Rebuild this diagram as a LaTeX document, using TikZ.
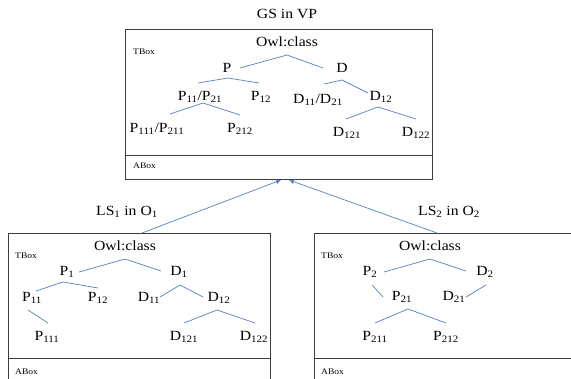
\documentclass[tikz,border=0pt]{standalone}
\usepackage{fontspec}
\setmainfont{Liberation Serif}[FakeStretch=1.12]
\usetikzlibrary{arrows.meta}
\definecolor{linkblue}{RGB}{84,130,190}
\definecolor{boxgray}{RGB}{60,60,60}
\tikzset{
  lbl/.style={inner sep=0pt, font=\fontsize{14}{16}\selectfont},
  ttl/.style={inner sep=0pt, font=\fontsize{14}{16}\selectfont},
  small/.style={inner sep=0pt, anchor=west, font=\fontsize{8.5}{10}\selectfont},
  br/.style={draw=linkblue, line width=0.7pt},
  frame/.style={draw=boxgray, line width=0.8pt},
  link/.style={draw=linkblue, line width=0.7pt, -{Latex[length=5pt,width=5pt]}}
}
\newcommand{\sub}[1]{\textsubscript{#1}}
\begin{document}
\begin{tikzpicture}[x=1pt,y=-1pt]
\useasboundingbox (0,0) rectangle (571,378);
\clip (0,0) rectangle (571,378);
% ---------- top box ----------
\node[ttl] (gs) at (287,14) {GS in VP};
\draw[frame] (125,29) rectangle (432,179);
\draw[frame] (125,155) -- (432,155);
\node[small] (tb0) at (133,52) {TBox};
\node[small] (ab0) at (133,166) {ABox};
\coordinate (box0) at (285,179);
\node[lbl] (o0) at (287,42) {Owl:class};
\node[lbl] (p) at (227,68) {P};
\node[lbl] (d) at (342,68) {D};
\node[lbl] (p11) at (200,97) {P\sub{11}/P\sub{21}};
\node[lbl] (p12) at (261,97) {P\sub{12}};
\node[lbl] (d11) at (318,100) {D\sub{11}/D\sub{21}};
\node[lbl] (d12) at (381,97) {D\sub{12}};
\node[lbl] (p111) at (157,129) {P\sub{111}/P\sub{211}};
\node[lbl] (p212) at (240,129) {P\sub{212}};
\node[lbl] (d121) at (347,133) {D\sub{121}};
\node[lbl] (d122) at (416,133) {D\sub{122}};
\coordinate (a0) at (287,55);
\coordinate (a0l) at (240,68);
\coordinate (a0r) at (323,68);
\coordinate (ap) at (228,78);
\coordinate (apl) at (198,83);
\coordinate (apr) at (259,83);
\coordinate (ad) at (342,80);
\coordinate (adl) at (324,84);
\coordinate (adr) at (368,93);
\coordinate (ap1) at (203,103);
\coordinate (ap1l) at (170,114);
\coordinate (ap1r) at (240,115);
\coordinate (ad2) at (378,107);
\coordinate (ad2l) at (346,119);
\coordinate (ad2r) at (416,119);
\draw[br] (a0l) -- (a0) -- (a0r);
\draw[br] (apl) -- (ap) -- (apr);
\draw[br] (adl) -- (ad) -- (adr);
\draw[br] (ap1l) -- (ap1) -- (ap1r);
\draw[br] (ad2l) -- (ad2) -- (ad2r);
% ---------- bottom left box ----------
\node[ttl] (ls1) at (127,212) {LS\sub{1} in O\sub{1}};
\draw[frame] (8,233) rectangle (270,400);
\draw[frame] (8,358) -- (270,358);
\node[small] (tb1) at (15,256) {TBox};
\node[small] (ab1) at (15,372) {ABox};
\coordinate (top1) at (142,233);
\node[lbl] (o1) at (125,246) {Owl:class};
\node[lbl] (q1) at (67,272) {P\sub{1}};
\node[lbl] (e1) at (179,272) {D\sub{1}};
\node[lbl] (q11) at (32,298) {P\sub{11}};
\node[lbl] (q12) at (98,298) {P\sub{12}};
\node[lbl] (e11) at (149,298) {D\sub{11}};
\node[lbl] (e12) at (219,298) {D\sub{12}};
\node[lbl] (q111) at (47,337) {P\sub{111}};
\node[lbl] (e121) at (184,337) {D\sub{121}};
\node[lbl] (e122) at (254,337) {D\sub{122}};
\coordinate (b0) at (125,259);
\coordinate (b0l) at (79,272);
\coordinate (b0r) at (161,271);
\coordinate (bq) at (63,282);
\coordinate (bql) at (36,291);
\coordinate (bqr) at (98,288);
\coordinate (be) at (180,285);
\coordinate (bel) at (160,297);
\coordinate (ber) at (203,297);
\coordinate (bq1) at (28,310);
\coordinate (bq1e) at (48,323);
\coordinate (be2) at (217,310);
\coordinate (be2l) at (184,323);
\coordinate (be2r) at (255,323);
\draw[br] (b0l) -- (b0) -- (b0r);
\draw[br] (bql) -- (bq) -- (bqr);
\draw[br] (bel) -- (be) -- (ber);
\draw[br] (bq1) -- (bq1e);
\draw[br] (be2l) -- (be2) -- (be2r);
% ---------- bottom right box ----------
\node[ttl] (ls2) at (449,212) {LS\sub{2} in O\sub{2}};
\draw[frame] (314,233) rectangle (600,400);
\draw[frame] (314,358) -- (600,358);
\node[small] (tb2) at (321,256) {TBox};
\node[small] (ab2) at (321,372) {ABox};
\coordinate (top2) at (437,233);
\node[lbl] (o2) at (430,246) {Owl:class};
\node[lbl] (r2) at (370,272) {P\sub{2}};
\node[lbl] (f2) at (485,272) {D\sub{2}};
\node[lbl] (r21) at (402,297) {P\sub{21}};
\node[lbl] (f21) at (454,297) {D\sub{21}};
\node[lbl] (r211) at (375,337) {P\sub{211}};
\node[lbl] (r212) at (446,337) {P\sub{212}};
\coordinate (c0) at (430,259);
\coordinate (c0l) at (384,272);
\coordinate (c0r) at (466,271);
\coordinate (cr) at (372,285);
\coordinate (cre) at (383,297);
\coordinate (cf) at (486,285);
\coordinate (cfe) at (466,297);
\coordinate (cr2) at (408,309);
\coordinate (cr2l) at (375,323);
\coordinate (cr2r) at (446,323);
\draw[br] (c0l) -- (c0) -- (c0r);
\draw[br] (cr) -- (cre);
\draw[br] (cf) -- (cfe);
\draw[br] (cr2l) -- (cr2) -- (cr2r);
% ---------- links ----------
\coordinate (tipL) at (281,180);
\coordinate (tipR) at (289,180);
\draw[link] (top1) -- (tipL);
\draw[link] (top2) -- (tipR);
\end{tikzpicture}
\end{document}
